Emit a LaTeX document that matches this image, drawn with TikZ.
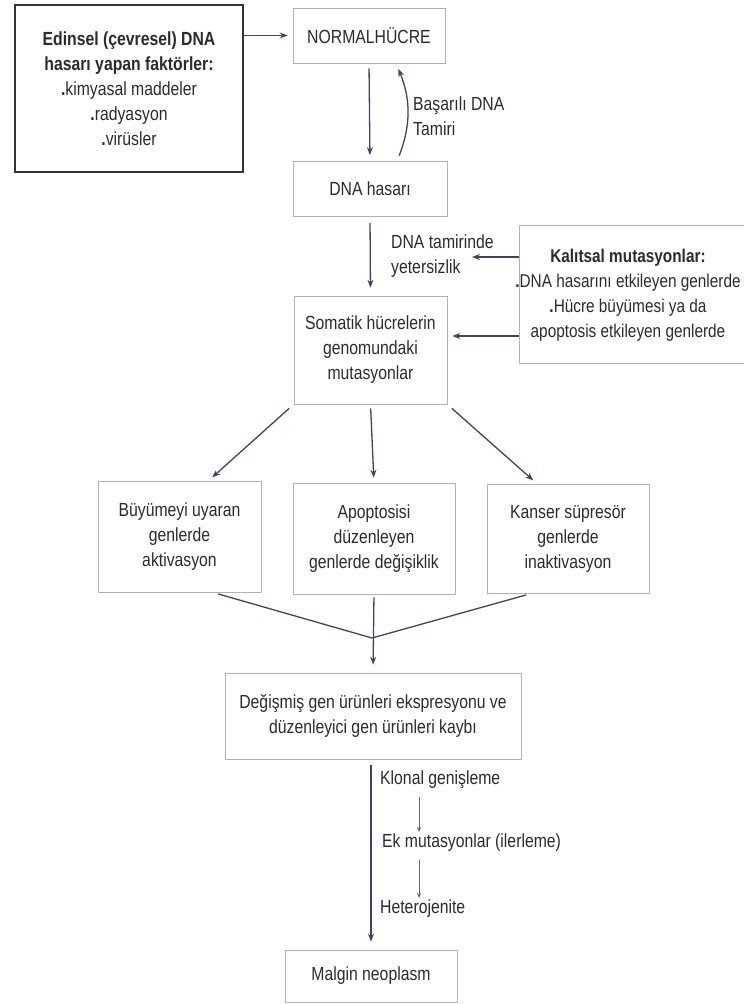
\documentclass[tikz,border=0pt]{standalone}
\usepackage{fontspec}
\setmainfont[FakeStretch=0.83]{Liberation Sans}
\usetikzlibrary{arrows.meta}
\definecolor{arrowblue}{HTML}{3B4566}
\definecolor{inkgray}{HTML}{2B2B2B}
\tikzset{
  box/.style={draw=black!30, line width=0.6pt, align=center, inner sep=2pt, text=inkgray},
  lbl/.style={align=left, anchor=west, inner sep=0pt, text=inkgray},
  arr/.style={draw=arrowblue, line width=1.3pt, -{Stealth[length=8pt,width=6pt]}},
  smallarr/.style={draw=black!60, line width=0.6pt, -{Stealth[length=5pt,width=4pt]}},
}

\begin{document}
\begin{tikzpicture}[x=1pt,y=-1pt,font=\fontsize{19}{25}\selectfont]
\useasboundingbox (0,0) rectangle (744,1004);
% boxes
\node[box, draw=black!80, line width=1.6pt, minimum width=228pt, minimum height=167pt] (edin) at (129,88.5)
  {\textbf{Edinsel (çevresel) DNA}\\ \textbf{hasarı yapan faktörler:}\\ \textbf{.}kimyasal maddeler\\ \textbf{.}radyasyon\\ \textbf{.}virüsler};
\node[box, minimum width=152pt, minimum height=55pt] (normal) at (369,35.5) {NORMALHÜCRE};
\node[box, minimum width=154pt, minimum height=55pt] (dnah) at (370,189) {DNA hasarı};
\node[box, minimum width=231pt, minimum height=138pt] (kal) at (634.5,294) {};
\node[align=center, inner sep=0pt, text=inkgray, font=\fontsize{18.5}{25}\selectfont] (kaltext) at (628,295)
  {\textbf{Kalıtsal mutasyonlar:}\\ \textbf{.}DNA hasarını etkileyen genlerde\\ \textbf{.}Hücre büyümesi ya da\\ apoptosis etkileyen genlerde};
\node[box, minimum width=153pt, minimum height=108pt] (som) at (370.5,350)
  {Somatik hücrelerin\\ genomundaki\\ mutasyonlar};
\node[box, minimum width=163pt, minimum height=111pt] (b1) at (179.5,536.5) {Büyümeyi uyaran\\ genlerde\\ aktivasyon};
\node[box, minimum width=162pt, minimum height=111pt] (b2) at (374,538.5) {Apoptosisi\\ düzenleyen\\ genlerde değişiklik};
\node[box, minimum width=162pt, minimum height=109pt] (b3) at (568,538.5) {Kanser süpresör\\ genlerde\\ inaktivasyon};
\node[box, minimum width=296pt, minimum height=86pt] (deg) at (373,716)
  {Değişmiş gen ürünleri ekspresyonu ve\\ düzenleyici gen ürünleri kaybı};
\node[box, minimum width=172pt, minimum height=52pt] (mal) at (371,976) {Malgin neoplasm};
% labels
\node[lbl] (basari) at (413,116) {Başarılı DNA\\ Tamiri};
\node[lbl] (yeter) at (391,256) {DNA tamirinde\\ yetersizlik};
\node[lbl] (klonal) at (380,780) {Klonal genişleme};
\node[lbl] (ek) at (382,843) {Ek mutasyonlar (ilerleme)};
\node[lbl] (het) at (380,909) {Heterojenite};
\coordinate (yt) at (472,257);
\coordinate (vj) at (372,638);
% arrows
\draw[arr, shorten >=5pt] (edin.east |- normal.west) -- (normal.west);
\draw[arr, shorten <=5pt, shorten >=6pt] (normal.south) -- (dnah.north);
\draw[arr, shorten <=6pt, shorten >=6pt] ([xshift=27pt]dnah.north) to[bend right=22] ([xshift=27pt]normal.south);
\draw[arr, shorten <=6pt, shorten >=8pt] (dnah.south) -- (som.north);
\draw[arr] (kal.west |- yt) -- (yt);
\draw[arr, shorten >=5pt] (kal.west |- 0,336) -- (som.east |- 0,336);
\draw[arr, shorten <=6pt, shorten >=5pt] (som.south west) -- ([xshift=29pt]b1.north);
\draw[arr, shorten <=4pt, shorten >=5pt] (som.south) -- (b2.north);
\draw[arr, shorten <=6pt, shorten >=5pt] (som.south east) -- ([xshift=-31pt]b3.north);
\draw[arrowblue, line width=1.3pt, shorten <=6pt] ([xshift=33pt]b1.south) -- (vj);
\draw[arrowblue, line width=1.3pt, shorten <=6pt] ([xshift=-36pt]b3.south) -- (vj);
\draw[arr, shorten <=3pt, shorten >=8pt] (b2.south) -- (deg.north);
\draw[arr, shorten <=6pt, shorten >=8pt] (deg.south -| mal.north) -- (mal.north);
\draw[smallarr, shorten <=8pt, shorten >=2pt] ([xshift=39pt]klonal.south west) -- ([xshift=37pt]ek.north west);
\draw[smallarr, shorten <=8pt, shorten >=2pt] ([xshift=37pt]ek.south west) -- ([xshift=39pt]het.north west);
\end{tikzpicture}
\end{document}
